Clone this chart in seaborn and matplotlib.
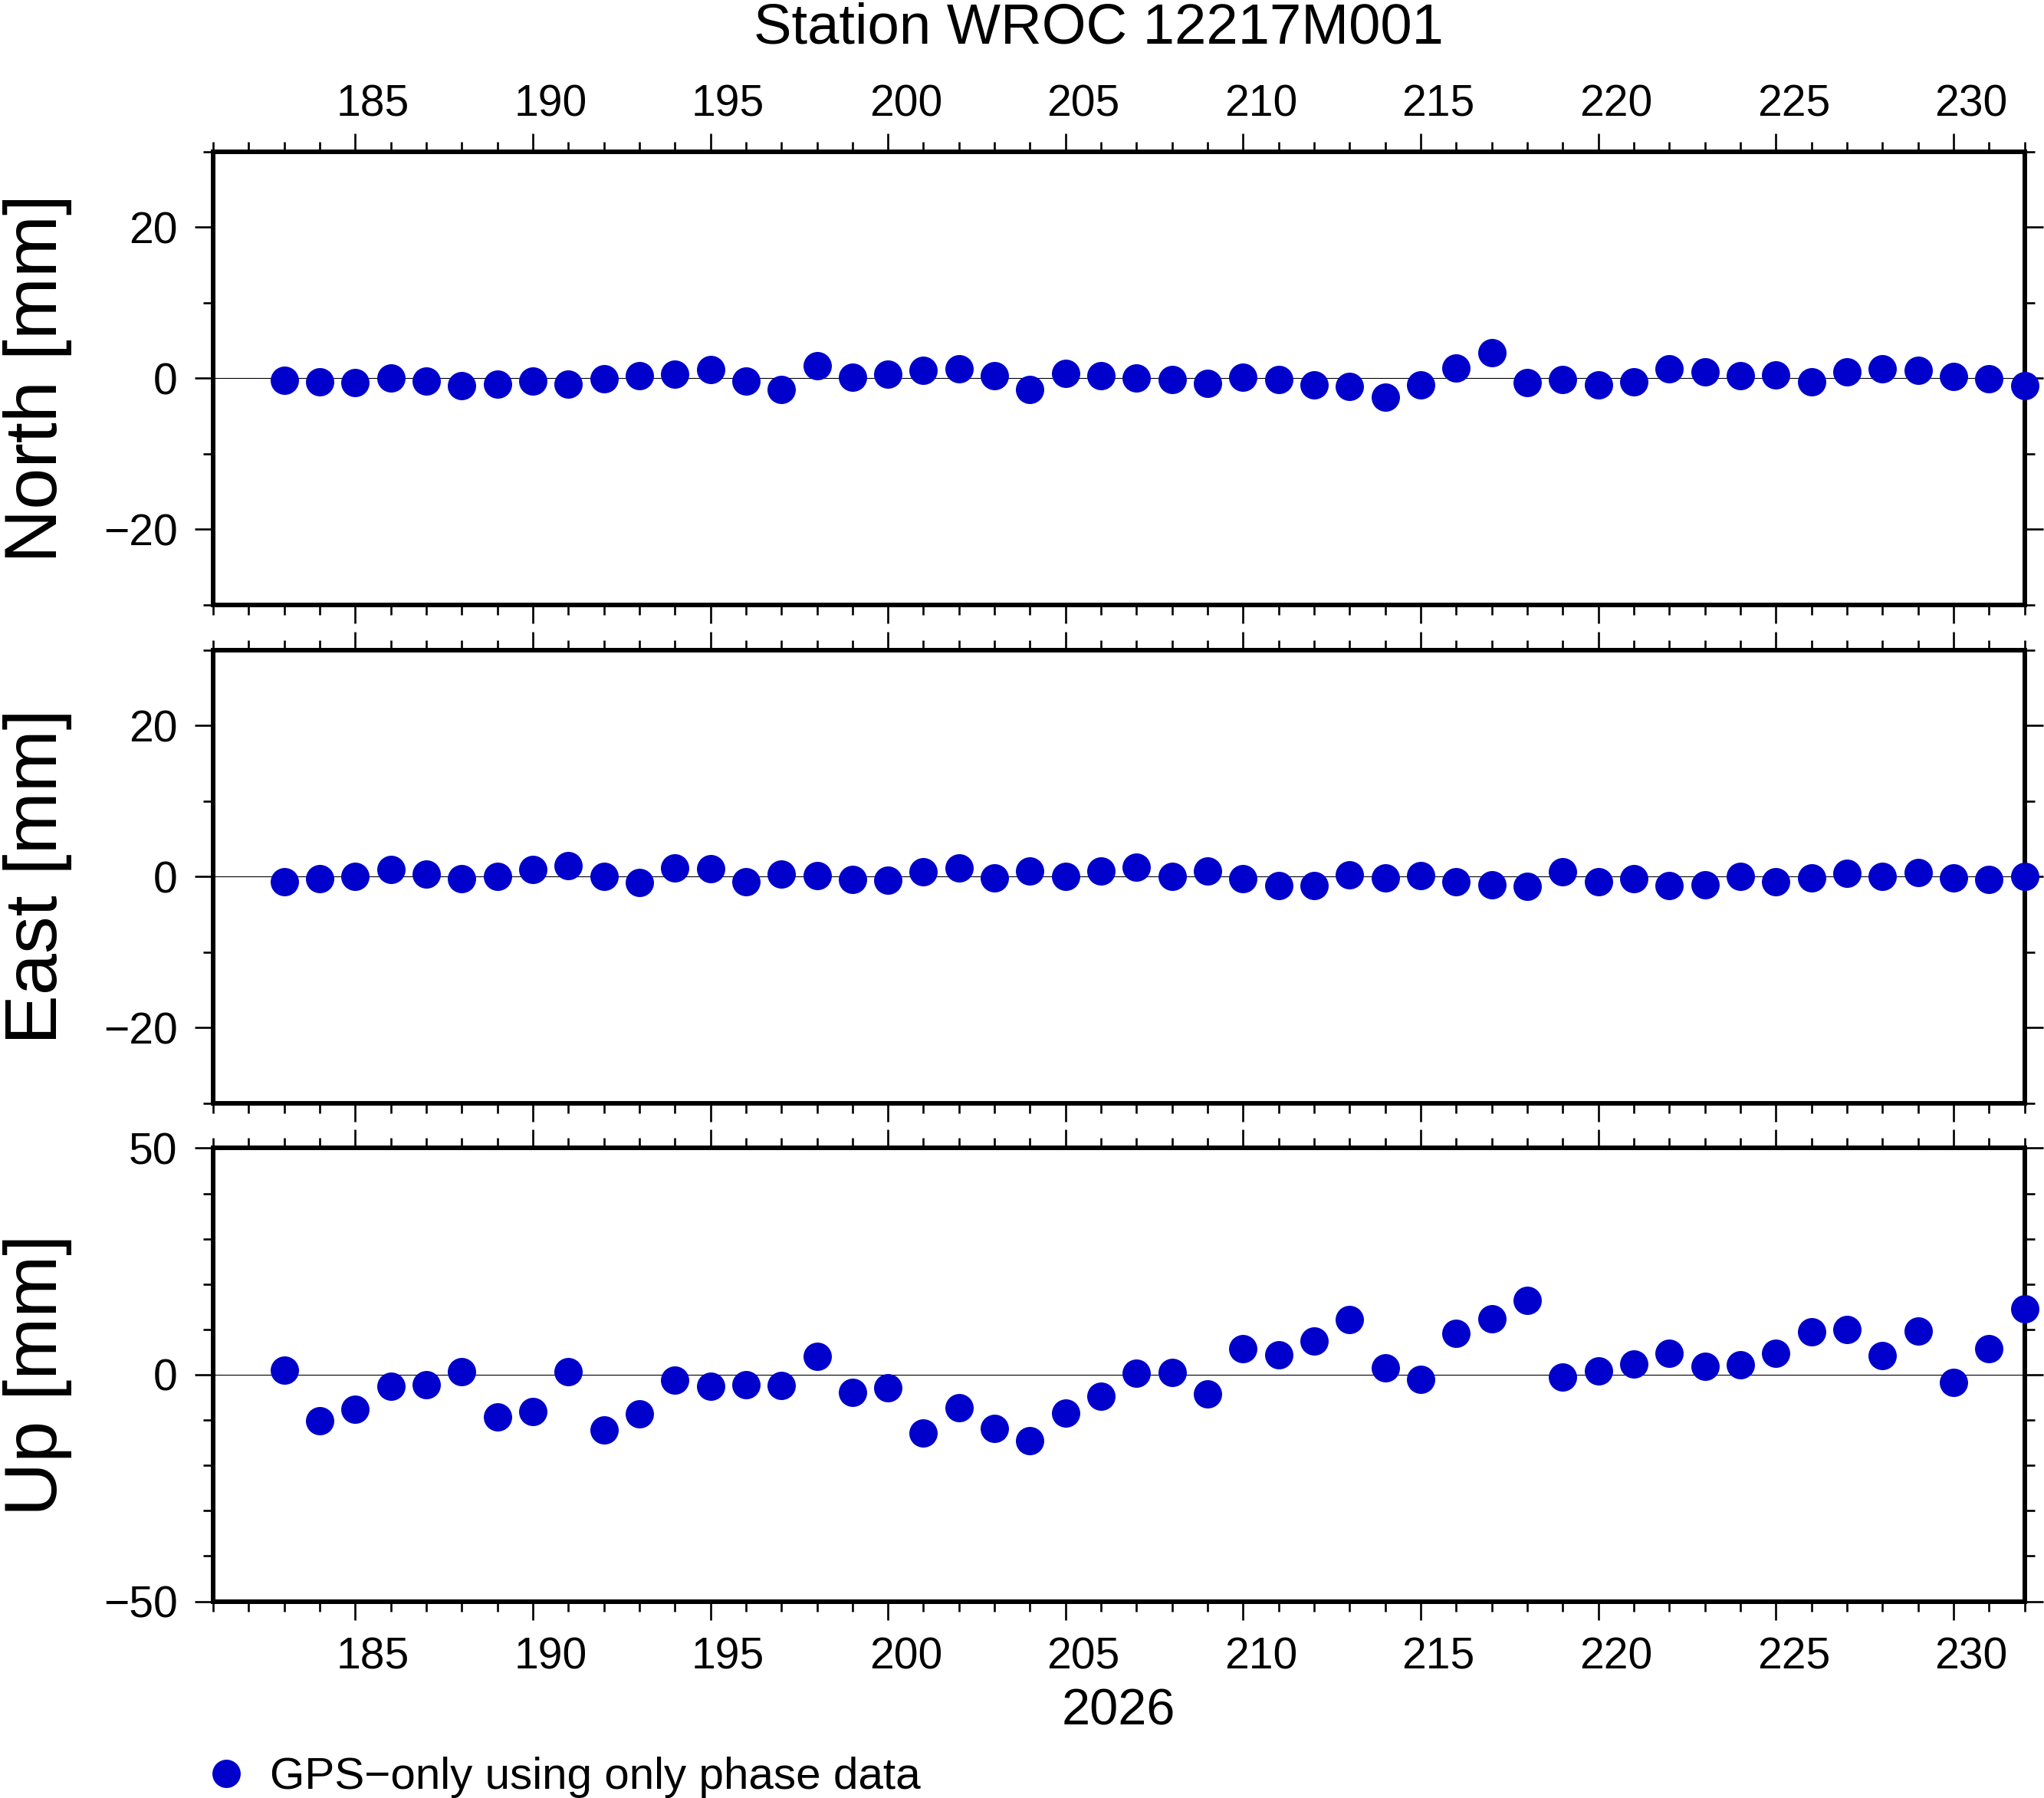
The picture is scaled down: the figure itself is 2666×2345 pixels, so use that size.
import numpy as np
import pandas as pd
import matplotlib
matplotlib.use("Agg")
import matplotlib.pyplot as plt
import seaborn as sns
from matplotlib.lines import Line2D

# ---------------- data ----------------
days = list(range(183, 233))

north = [-0.3, -0.5, -0.6, 0.0, -0.4, -1.0, -0.8, -0.4, -0.8, -0.1,
         0.4, 0.6, 1.2, -0.4, -1.5, 1.7, 0.2, 0.6, 1.1, 1.3,
         0.4, -1.5, 0.7, 0.4, 0.0, -0.2, -0.7, 0.2, -0.2, -0.9,
         -1.1, -2.5, -0.9, 1.4, 3.4, -0.6, -0.2, -0.9, -0.5, 1.3,
         0.9, 0.4, 0.5, -0.5, 0.9, 1.3, 1.1, 0.3, -0.1, -1.0]

east = [-0.66, -0.24, -0.03, 0.9, 0.37, -0.24, -0.03, 0.9, 1.4, -0.03,
        -0.84, 1.1, 1.0, -0.74, 0.37, 0.17, -0.34, -0.44, 0.68, 1.1,
        -0.14, 0.78, 0.07, 0.78, 1.28, 0.07, 0.78, -0.24, -1.15, -1.15,
        0.27, -0.14, 0.17, -0.74, -1.05, -1.25, 0.68, -0.74, -0.24, -1.15,
        -1.05, -0.03, -0.74, -0.14, 0.47, -0.03, 0.57, -0.14, -0.34, 0.07]

up = [1.0, -10.2, -7.6, -2.5, -2.2, 0.7, -9.3, -8.1, 0.7, -12.2,
      -8.6, -1.2, -2.5, -2.2, -2.4, 4.1, -3.9, -2.9, -12.9, -7.3,
      -11.9, -14.6, -8.5, -4.7, 0.3, 0.5, -4.2, 5.8, 4.4, 7.5,
      12.2, 1.5, -1.0, 9.2, 12.4, 16.4, -0.5, 0.8, 2.4, 4.7,
      1.9, 2.2, 4.7, 9.5, 10.0, 4.2, 9.7, -1.7, 5.8, 14.6]

tick_days = [185, 190, 195, 200, 205, 210, 215, 220, 225, 230]
tick_labels = [str(d) for d in tick_days]
year_label = "2026"
title_text = "Station WROC 12217M001"
legend_label = "GPS\u2212only using only phase data"
panel_labels = ["North [mm]", "East [mm]", "Up [mm]"]
panel_values = [north, east, up]
ylims = [(-30, 30), (-30, 30), (-50, 50)]
ymajor = [[-20, 0, 20], [-20, 0, 20], [-50, 0, 50]]
yminor = [list(range(-30, 31, 10)), list(range(-30, 31, 10)), list(range(-50, 51, 10))]
xlim = (181, 232)

# ---------------- style ----------------
sns.set_style("ticks")
plt.rcParams['font.family'] = ['Liberation Sans', 'DejaVu Sans']
plt.rcParams['axes.unicode_minus'] = True
for key in ['text.color', 'axes.labelcolor', 'xtick.color', 'ytick.color',
            'axes.edgecolor', 'xtick.labelcolor', 'ytick.labelcolor']:
    plt.rcParams[key] = 'black'

blue = "#0000CC"
W, H = 2666, 2345
fig = plt.figure(figsize=(W / 100, H / 100), dpi=100)

left, width, height = 0.10428, 0.88616, 0.25203
bottoms = [0.66354, 0.38648, 0.10938]

spine_lw = 4.3
tick_w = 1.9
major_len = 17.5
minor_len = 9.4
tick_fs = 41

axes = []
for i in range(3):
    ax = fig.add_axes([left, bottoms[i], width, height])
    axes.append(ax)
    df = pd.DataFrame({"day": days, "value": panel_values[i]})
    ax.axhline(0, color="black", lw=0.8, zorder=1)
    sns.scatterplot(data=df, x="day", y="value", ax=ax, s=708, color=blue,
                    linewidth=0, zorder=3, clip_on=False, legend=False)
    ax.set_xlim(*xlim)
    ax.set_ylim(*ylims[i])
    ax.set_xticks(tick_days)
    ax.set_xticks(np.arange(xlim[0], xlim[1] + 1), minor=True)
    ax.set_yticks(ymajor[i])
    ax.set_yticks(yminor[i], minor=True)
    ax.tick_params(axis="both", which="both", direction="out", top=True,
                   bottom=True, left=True, right=True, width=tick_w,
                   color="black", labelcolor="black")
    ax.tick_params(which="major", length=major_len)
    ax.tick_params(which="minor", length=minor_len)
    ax.tick_params(axis="x", labelbottom=False, labeltop=False)
    ax.tick_params(axis="y", labelsize=tick_fs, pad=16, labelleft=True,
                   labelright=False)
    for sp in ax.spines.values():
        sp.set_linewidth(spine_lw)
        sp.set_color("black")
        sp.set_visible(True)
    ax.set_xlabel("")
    ax.set_ylabel(panel_labels[i], fontsize=70, color="black")
    ax.yaxis.set_label_coords(-0.0779, 0.5)

label_pos = [d + 0.5 for d in tick_days]

# top labels
sec_top = axes[0].secondary_xaxis("top")
sec_top.set_xticks(label_pos, labels=tick_labels)
sec_top.tick_params(length=0, pad=25, labelsize=tick_fs, labelcolor="black")
for sp in sec_top.spines.values():
    sp.set_visible(False)

# bottom labels
sec_bot = axes[2].secondary_xaxis("bottom")
sec_bot.set_xticks(label_pos, labels=tick_labels)
sec_bot.tick_params(length=0, pad=33, labelsize=tick_fs, labelcolor="black")
for sp in sec_bot.spines.values():
    sp.set_visible(False)

axes[2].set_xlabel(year_label, fontsize=48, color="black")
axes[2].xaxis.set_label_coords(0.5, -0.191)

fig.text(0.5375, 0.9757, title_text, ha="center", va="baseline",
         fontsize=53.5, color="black")

handle = Line2D([], [], marker="o", linestyle="none", markersize=26.6,
                markerfacecolor=blue, markeredgewidth=0)
fig.legend([handle], [legend_label], loc="lower left",
           bbox_to_anchor=(0.0996, 0.0), frameon=False, fontsize=42,
           borderpad=0, borderaxespad=0, handlelength=1.0,
           handletextpad=0.49, labelcolor="black")

fig.savefig("out.png", dpi=100)
